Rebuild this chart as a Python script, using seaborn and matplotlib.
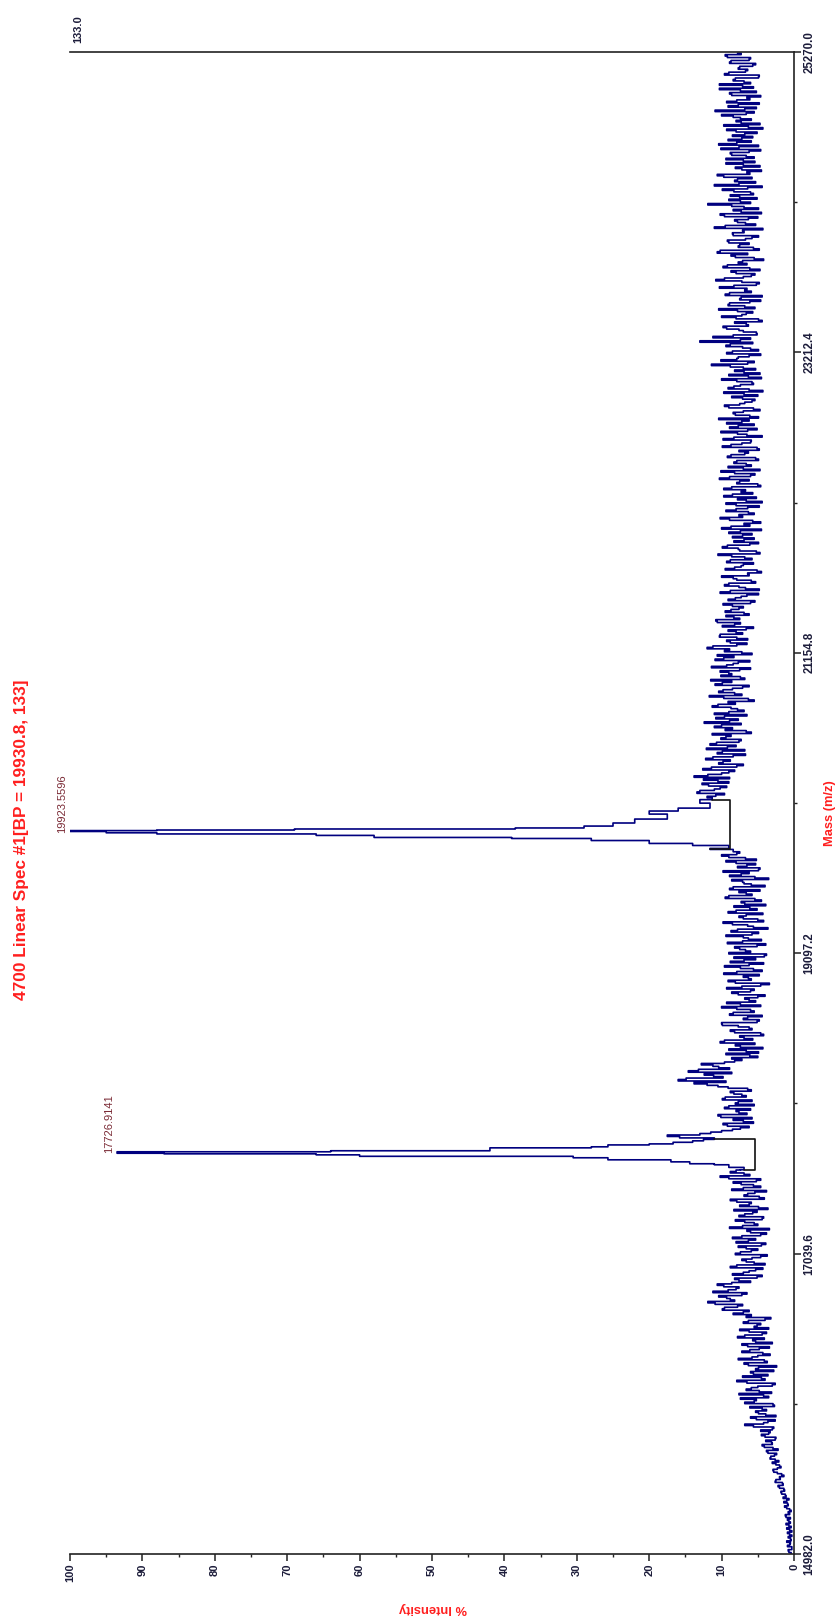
import numpy as np
import pandas as pd
import matplotlib
matplotlib.use("Agg")
import matplotlib.pyplot as plt
import seaborn as sns

# ---------------- data ----------------
mass_step = 20.0
# noise before peak 1: sample set a (from 14982 m/z) and set b (10 m/z later)
seg1_start = 14982.0
seg1 = [0.4,0.8,0.3,0.6,1.0,0.5,0.3,0.9,0.6,0.4,1.1,0.7,0.5,1.2,0.8,0.6,1.3,0.9,1.0,1.5,1.2,
        1.8,1.4,2.2,1.6,2.5,2.0,1.7,2.8,2.3,2.0,3.0,2.6,
        3.2,2.4,3.8,2.9,4.4,3.1,2.6,4.0,3.5,
        4.6,2.8,6.8,3.6,5.2,2.5,4.9,
        3.8,6.1,2.9,5.5,7.4,4.2,3.1,6.6,5.0,2.6,7.9,4.5,3.6,6.0,5.3,2.4,6.9,4.1,5.8,3.3,7.2,
        4.8,6.4,3.0,5.7,7.8,4.4,6.2,3.5,5.1,7.0,4.0,6.6,
        8.4,6.2,9.6,7.1,11.9,8.8,10.4,6.5,9.1,7.6,10.6,
        6.0,8.2,4.4,7.0,5.3,8.8,4.0,6.6,5.8,3.7,7.4,
        5.0,7.7,3.9,6.3,8.5,4.6,6.0,3.4,7.1,5.5,8.1,4.2,6.8,5.1,3.6,7.5,5.9,8.8,4.8,6.4,3.8,7.0,
        5.6,8.4,4.6,10.2,6.9,8.0]
seg1b_start = 14992.0
seg1b = [0.7,0.3,0.9,0.5,0.4,0.8,0.6,0.3,1.0,0.7,0.5,0.9,1.1,0.6,0.4,1.0,0.8,1.4,0.7,1.1,1.7,
         1.3,2.0,1.5,2.6,1.9,1.4,2.3,2.9,1.8,2.5,2.1,3.3,
         2.7,3.6,2.2,4.1,3.0,3.9,2.5,4.5,3.3,
         3.0,5.6,4.2,2.6,6.0,3.9,5.3,
         4.4,2.7,6.8,5.2,3.5,7.6,4.8,5.9,3.0,6.5,4.0,7.1,5.6,2.8,4.9,6.3,3.7,7.7,5.0,4.3,6.1,
         3.4,7.2,5.3,4.1,6.8,3.8,7.5,5.5,4.6,6.3,3.2,5.9,
         7.0,9.9,7.8,10.9,8.2,9.3,7.2,11.2,8.0,9.7,8.6,
         7.6,5.1,8.5,6.2,4.3,7.9,5.5,7.2,4.6,8.1,5.9,
         6.6,4.5,8.0,5.3,7.2,3.8,6.5,8.9,5.0,6.8,4.4,7.6,5.7,8.3,4.9,6.2,7.9,4.1,6.9,5.4,8.6,4.6,
         7.3,5.2,9.0,6.1,8.8,7.4]
# noise between the peaks
seg2_start = 17802.0
seg2 = [14.0,11.0,17.5,11.5,
        8.5,6.2,9.8,7.0,5.8,10.5,7.6,6.0,9.0,8.1,5.8,9.5,7.2,8.8,6.4,
        10.5,13.8,16.0,9.8,12.4,14.6,8.9,11.2,9.6,
        7.2,5.0,9.4,6.6,4.3,8.1,10.2,5.7,7.5,4.6,8.8,6.2,9.9,5.1,7.0,4.4,8.4,6.0,10.0,7.4,5.3,
        6.8,4.0,8.6,5.5,7.2,3.4,9.1,6.3,4.8,7.9,5.6,9.6,4.2,6.9,8.3,3.8,6.0,7.5,5.1,9.2,
        4.5,7.0,5.8,8.7,3.6,6.4,9.8,5.0,7.6,4.3,8.0,6.1,3.9,7.3,5.4,9.0,6.6,4.7,8.4,5.9,
        7.1,3.5,8.9,6.2,4.9,7.8,5.3,9.4,6.7,10.0,7.5]
seg2b_start = 17812.0
seg2b = [12.5,15.8,13.0,10.0,
         7.4,9.2,5.6,8.4,10.1,6.5,8.0,9.6,5.5,7.7,9.9,6.6,8.3,5.9,9.1,
         12.0,9.4,14.9,11.1,8.6,13.2,10.4,12.8,8.2,
         8.6,6.1,4.9,9.0,7.4,5.4,9.6,6.9,4.2,8.2,5.8,7.7,10.0,4.8,6.4,8.9,5.5,7.9,4.6,9.3,6.2,
         5.0,7.7,6.0,9.3,4.6,8.1,5.9,7.0,9.7,4.4,7.4,6.2,8.8,5.3,4.1,9.0,6.7,8.2,3.9,7.1,
         6.3,9.4,4.9,7.8,5.6,8.5,4.2,7.0,6.6,9.1,5.1,8.3,6.8,4.5,9.5,5.8,7.6,8.9,4.0,6.9,
         8.6,5.4,7.3,9.8,4.7,6.5,8.0,5.2,9.0,7.9,8.4]
# noise after peak 2
seg3_start = 20162.0
seg3 = [12.0,9.6,13.0,10.2,11.8,9.0,12.5,
        13.8,10.0,8.2,11.4,7.0,9.8,12.2,8.4,10.6,6.8,9.2,11.6,7.6,10.1,8.7,5.9,9.5,11.0,7.3,8.9,
        10.8,6.5,9.0,7.8,11.3,8.1,5.5,9.7,7.2,10.4,8.5,6.2,9.9,11.5,7.4,8.6,10.2,6.0,9.3,7.7,
        10.9,8.3,5.8,9.6,12.0,7.9,8.8,6.4,10.3,7.1,9.1,5.6,8.2,10.6,7.5,9.4,6.9,8.7,
        7.0,9.8,5.4,8.1,6.5,10.2,4.8,7.6,9.0,5.9,8.4,6.2,4.5,9.5,7.3,5.6,8.8,6.8,10.5,5.2,
        7.7,9.2,4.9,6.9,8.5,5.8,7.4,10.0,6.1,4.6,8.9,7.1,5.5,9.4,6.4,8.0,4.4,7.8,9.7,5.7,
        6.7,8.6,5.0,7.5,10.3,6.0,8.2,4.7,9.1,6.6,7.9,5.3,8.7,6.3,4.8,9.9,7.2,5.9,8.3,6.5,
        10.1,5.1,7.7,9.3,6.2,4.9,8.1,7.0,5.6,9.6,6.8,
        5.4,8.6,6.9,4.3,9.1,7.4,5.8,10.0,6.3,4.7,8.2,7.0,11.4,5.5,7.9,6.2,9.3,4.9,7.1,8.8,
        13.0,6.0,8.4,5.2,7.6,9.8,6.6,4.4,8.0,7.2,5.7,10.4,6.8,8.9,4.6,7.3,9.5,5.9,6.5,8.3,
        4.8,10.8,7.0,5.4,8.7,6.1,9.2,7.7,4.2,8.1,6.4,10.2,5.6,7.5,9.0,6.7,4.9,8.5,7.1,11.0,
        5.3,7.8,6.3,9.6,4.5,8.4,6.9,11.9,7.4,5.1,8.8,6.0,9.9,4.4,7.6,8.2,5.8,10.6,6.5,7.2,
        4.7,9.4,7.0,5.5,8.6,6.2,10.1,4.9,7.9,9.1,5.7,6.8,8.0,4.3,9.7,7.3,5.9,8.4,6.6,10.9,
        5.2,7.7,9.3,6.1,4.6,8.9,7.4,5.6,10.3,6.9,8.1,4.8,9.0,6.4,7.5,5.3,8.7,6.0,9.5,7.8]
seg3b_start = 20172.0
seg3b = [10.8,13.4,11.0,9.3,12.7,10.5,8.9,
         11.9,9.0,12.6,7.9,10.4,8.8,11.2,6.7,9.9,12.1,8.0,10.7,7.3,9.4,11.3,6.6,8.5,10.0,12.4,7.7,
         9.6,11.0,6.9,8.7,10.5,9.1,6.3,11.7,8.2,9.8,7.1,10.9,8.6,6.8,10.1,9.0,7.5,11.4,8.4,6.1,
         9.7,10.6,7.2,8.9,11.2,6.5,9.3,7.9,10.2,8.0,6.6,9.9,7.4,10.8,8.3,6.2,9.5,7.6,
         8.5,6.0,9.1,7.3,4.9,8.8,6.7,9.6,5.3,7.9,10.0,6.4,5.1,8.2,7.0,9.3,5.8,8.6,4.7,7.5,
         9.9,6.1,8.3,5.5,7.1,9.0,4.5,8.7,6.9,5.7,10.2,7.6,6.3,8.0,4.8,9.4,6.6,5.2,8.5,7.3,
         9.7,4.6,7.9,6.2,8.9,5.4,10.1,7.0,5.9,8.3,4.9,9.2,6.8,7.6,5.1,8.7,6.0,9.8,4.4,7.8,
         6.4,8.9,5.5,7.2,10.4,6.1,8.4,4.7,9.0,7.5,5.8,
         7.1,5.0,9.7,6.2,8.3,5.6,7.9,4.5,9.0,6.9,5.3,8.8,6.4,10.1,7.7,4.6,8.5,6.0,9.4,5.7,
         7.4,11.2,5.1,7.0,9.3,6.3,8.2,4.9,10.0,6.6,7.8,5.4,9.1,6.1,7.5,4.4,8.9,6.8,10.3,5.2,
         7.2,9.6,5.9,8.0,4.7,9.8,6.5,7.1,5.5,8.7,10.6,4.8,7.7,6.2,9.2,5.8,8.4,6.9,4.3,9.5,
         6.7,8.2,5.0,10.2,7.3,4.9,8.6,6.0,9.0,7.5,5.6,8.3,6.4,11.0,5.3,7.8,9.7,6.1,4.5,8.1,
         7.0,5.4,9.4,6.6,8.8,4.6,7.6,10.4,5.9,7.2,8.5,5.1,9.3,6.3,4.7,8.0,7.4,10.0,5.5,6.8,
         9.1,4.8,7.9,6.5,8.6,5.2,10.3,7.1,6.0,8.4,4.9,9.6,6.7,7.7,5.7,8.9,6.2,9.2,7.3,5.8]

# peak 1 points (m/z, % intensity)
peak1_mass = [17614, 17630, 17648, 17655, 17668, 17682, 17696, 17706, 17716, 17723,
              17727, 17737, 17744, 17764, 17771, 17784, 17791]
peak1_int = [6.9, 9.0, 11.0, 14.4, 17.0, 25.7, 30.5, 60.0, 66.0, 87.0,
             93.5, 64.0, 42.0, 28.0, 25.7, 20.0, 16.7]
# peak 2 points
peak2_mass = [19808, 19815, 19835, 19849, 19869, 19883, 19890, 19904, 19914, 19922,
              19931, 19937, 19941, 19948, 19955, 19968, 19989, 20016, 20050, 20071,
              20091, 20125, 20149]
peak2_int = [11.6, 9.0, 14.0, 20.0, 28.0, 39.0, 58.0, 66.0, 88.0, 95.0,
             100.0, 88.0, 69.0, 38.5, 29.0, 25.0, 22.0, 17.5, 20.0, 16.0,
             11.6, 13.0, 11.3]

# baseline brackets under the peaks
br1_mass = [17614, 17614, 17822, 17822]
br1_int = [6.9, 5.4, 5.4, 11.0]
br2_mass = [19808, 19808, 20149, 20149]
br2_int = [11.6, 8.8, 8.8, 11.3]

peak_labels = ["17726.9141", "19923.5596"]
peak_label_mass = [17726.9, 19923.6]
peak_label_int = [94.6, 101.1]

mass_ticks = [14982.0, 17039.6, 19097.2, 21154.8, 23212.4, 25270.0]
int_ticks = [0, 10, 20, 30, 40, 50, 60, 70, 80, 90, 100]

title = "4700 Linear Spec #1[BP = 19930.8, 133]"
xlabel = "Mass (m/z)"
ylabel = "% Intensity"
max_label = "133.0"

# ---------------- build table ----------------
def seg_df(start, vals):
    m = start + mass_step * np.arange(len(vals))
    return pd.DataFrame({"mass": m, "intensity": vals})

df = pd.concat([seg_df(seg1_start, seg1), seg_df(seg1b_start, seg1b),
                seg_df(seg2_start, seg2), seg_df(seg2b_start, seg2b),
                seg_df(seg3_start, seg3), seg_df(seg3b_start, seg3b),
                pd.DataFrame({"mass": peak1_mass, "intensity": peak1_int}),
                pd.DataFrame({"mass": peak2_mass, "intensity": peak2_int})], ignore_index=True)
df = df[df["mass"] <= 25270].sort_values("mass", kind="stable").reset_index(drop=True)

# ---------------- figure ----------------
sns.set_style("white")
plt.rcParams["font.family"] = ["Liberation Sans", "DejaVu Sans"]

W, H = 838, 1619
fig = plt.figure(figsize=(W / 100, H / 100), dpi=100)
x0, x1 = 70, 794
y_top, y_bot = 52, 1554
ax = fig.add_axes([x0 / W, 1 - y_bot / H, (x1 - x0) / W, (y_bot - y_top) / H])

navy = "#00007f"
red = "#ff1f1f"
tickc = "#1c1c3a"

sns.lineplot(data=df, x="intensity", y="mass", orient="y", sort=False, estimator=None,
             color=navy, lw=1.2, drawstyle="steps-pre", ax=ax)
ax.plot(br1_int, br1_mass, color="#111111", lw=1.2)
ax.plot(br2_int, br2_mass, color="#111111", lw=1.2)

ax.set_xlim(100, 0)
ax.set_ylim(mass_ticks[0], mass_ticks[-1])
ax.set_xlabel("")
ax.set_ylabel("")

for s in ["top", "right", "bottom"]:
    ax.spines[s].set_visible(True)
    ax.spines[s].set_color("#222222")
    ax.spines[s].set_linewidth(1.2)
ax.spines["left"].set_visible(False)

ax.yaxis.tick_right()
ax.set_yticks(mass_ticks)
ax.set_yticklabels([f"{v:.1f}" for v in mass_ticks], rotation=90, va="center", ha="left",
                   fontsize=8.3, fontweight="bold", color=tickc)
minor_mass = [(a + b) / 2 for a, b in zip(mass_ticks[:-1], mass_ticks[1:])]
ax.set_yticks(minor_mass, minor=True)
ax.set_xticks(int_ticks)
ax.set_xticklabels([str(v) for v in int_ticks], rotation=90, va="top", ha="center",
                   fontsize=8, fontweight="bold", color=tickc)
ax.set_xticks([v + 5 for v in int_ticks[:-1]], minor=True)
ax.tick_params(axis="both", which="major", direction="out", length=5, width=1.1,
               color="#222222", pad=2)
ax.tick_params(axis="both", which="minor", direction="out", length=2.5, width=1.0,
               color="#222222")
ax.tick_params(axis="y", which="both", left=False, right=True)
ax.tick_params(axis="x", which="both", bottom=True, top=False)

for lab, m, it in zip(peak_labels, peak_label_mass, peak_label_int):
    ax.text(it, m, lab, rotation=90, ha="center", va="bottom", fontsize=8,
            color="#7a2a35", clip_on=False)

fig.text(22 / W, 1 - 840 / H, title, rotation=90, ha="center", va="center",
         fontsize=12.4, fontweight="bold", color=red)
fig.text(830 / W, 1 - 813 / H, xlabel, rotation=90, ha="center", va="center",
         fontsize=9.3, fontweight="bold", color=red)
fig.text(433 / W, 1 - 1608 / H, ylabel, rotation=180, ha="center", va="center",
         fontsize=9.3, fontweight="bold", color=red)
fig.text(78 / W, 1 - 29 / H, max_label, rotation=90, ha="center", va="center",
         fontsize=8, fontweight="bold", color=tickc)

fig.savefig("out.png", dpi=100, facecolor="white")
